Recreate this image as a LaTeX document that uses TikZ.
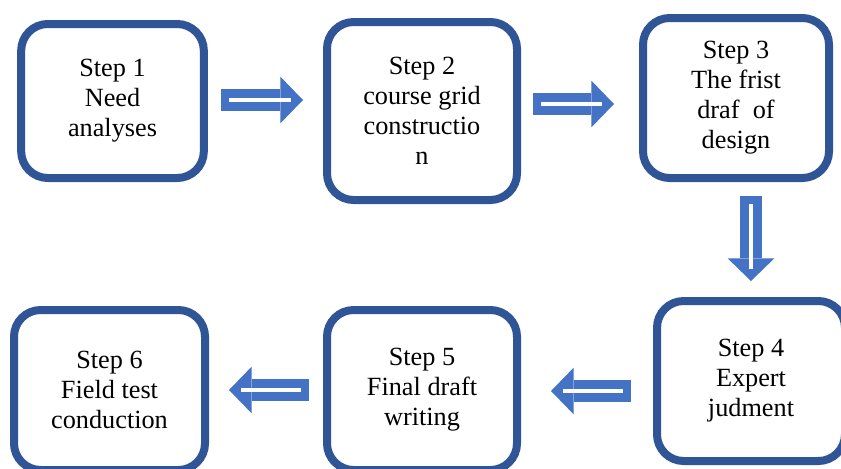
\documentclass[tikz,border=0pt]{standalone}
\usepackage{fontspec}
\setmainfont{Liberation Serif}
\usetikzlibrary{arrows.meta}
\definecolor{BoxBlue}{HTML}{2F5597}
\definecolor{ArrowBlue}{HTML}{4472C4}

\begin{document}
\begin{tikzpicture}[x=0.75pt,y=-0.75pt]
  \tikzset{StepStyle/.style = {
    shape           = rectangle,
    draw            = BoxBlue,
    fill            = white,
    line width      = 6pt,
    rounded corners = 20pt,
    text            = black,
    align           = center,
    inner sep       = 0pt,
    font            = \fontsize{19.7}{22.5}\selectfont
    }
  }
  \tikzset{ArrowStyle/.style = {
    draw            = ArrowBlue,
    line width      = 16.5pt,
    -{Triangle[length=17pt,width=35pt,line width=0pt]},
    postaction      = {draw=white, line width=2.5pt, shorten <=6pt, shorten >=9pt, -}
    }
  }

  \useasboundingbox (0,0) rectangle (841,468);
  \clip (0,0) rectangle (841,468);

	\node[StepStyle, minimum width=137pt, minimum height=115.5pt](S1) at (112.5,101) {Step 1\\Need\\analyses};
	\node[StepStyle, minimum width=142.5pt, minimum height=133.5pt](S2) at (422,111) {Step 2\\course grid\\constructio\\n};
	\node[StepStyle, minimum width=139.5pt, minimum height=120pt](S3) at (736,98) {Step 3\\The frist\\draf\ \ of\\design};
	\node[StepStyle, minimum width=141pt, minimum height=120pt](S4) at (751,381) {Step 4\\Expert\\judment};
	\node[StepStyle, minimum width=142.5pt, minimum height=120pt](S5) at (422,390) {Step 5\\Final draft\\writing};
	\node[StepStyle, minimum width=143.25pt, minimum height=120pt](S6) at (109.5,390) {Step 6\\Field test\\conduction};

	\coordinate (A1s) at (221,100);
	\coordinate (A1e) at (303,100);
	\coordinate (A2s) at (533,104);
	\coordinate (A2e) at (614,104);
	\coordinate (A3s) at (751,196);
	\coordinate (A3e) at (751,281);
	\coordinate (A4s) at (631,391);
	\coordinate (A4e) at (551,391);
	\coordinate (A5s) at (309,390);
	\coordinate (A5e) at (229,390);

	\draw[ArrowStyle](A1s) to (A1e);
	\draw[ArrowStyle](A2s) to (A2e);
	\draw[ArrowStyle](A3s) to (A3e);
	\draw[ArrowStyle](A4s) to (A4e);
	\draw[ArrowStyle](A5s) to (A5e);

\end{tikzpicture}
\end{document}
